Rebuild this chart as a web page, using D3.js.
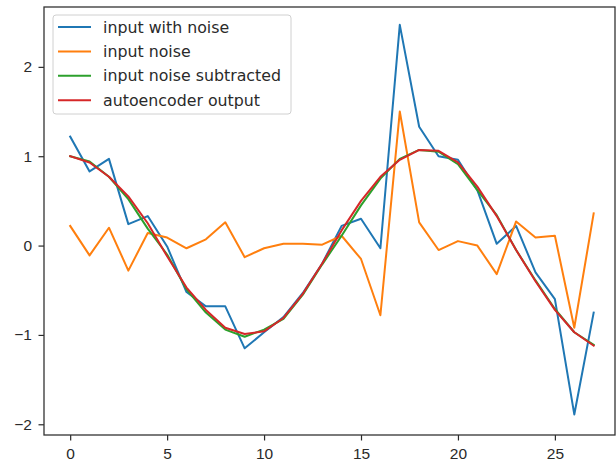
<!DOCTYPE html>
<html>
<head>
<meta charset="utf-8">
<script src="https://cdn.jsdelivr.net/npm/d3@7"></script>
<style>
  body { margin: 0; background: #fff; }
  svg { display: block; font-family: "DejaVu Sans", sans-serif; }
  .tick text { font-size: 15.5px; fill: #2a2a2a; }
  .tick line { stroke: #2a2a2a; stroke-width: 1.2; }
</style>
</head>
<body>
<div id="chart"></div>
<script>
// Data
var xs = d3.range(0, 28);
var inputWithNoise = [1.22, 0.83, 0.97, 0.24, 0.33, -0.01, -0.52, -0.68, -0.68, -1.15, -0.97, -0.80, -0.53, -0.20, 0.22, 0.30, -0.03, 2.47, 1.33, 1.00, 0.96, 0.62, 0.02, 0.22, -0.30, -0.60, -1.89, -0.75];
var inputNoise = [0.22, -0.11, 0.20, -0.28, 0.14, 0.09, -0.03, 0.07, 0.26, -0.13, -0.03, 0.02, 0.02, 0.01, 0.11, -0.15, -0.78, 1.50, 0.26, -0.05, 0.05, 0.00, -0.32, 0.27, 0.09, 0.11, -0.92, 0.36];
var noiseSubtracted = [1.00, 0.94, 0.77, 0.52, 0.19, -0.10, -0.49, -0.75, -0.94, -1.02, -0.94, -0.82, -0.55, -0.21, 0.11, 0.45, 0.75, 0.97, 1.07, 1.05, 0.91, 0.62, 0.34, -0.05, -0.39, -0.71, -0.97, -1.11];
var autoencoderOut = [1.00, 0.93, 0.77, 0.55, 0.25, -0.12, -0.47, -0.72, -0.92, -0.99, -0.96, -0.81, -0.54, -0.20, 0.17, 0.50, 0.77, 0.96, 1.07, 1.06, 0.93, 0.66, 0.33, -0.05, -0.40, -0.72, -0.97, -1.12];
var seriesNames = ["input with noise", "input noise", "input noise subtracted", "autoencoder output"];
var seriesColors = ["#1f77b4", "#ff7f0e", "#2ca02c", "#d62728"];
var xTicks = [0, 5, 10, 15, 20, 25];
var yTicks = [-2, -1, 0, 1, 2];

var width = 616, height = 464;
var plot = {left: 44, right: 615, top: 7, bottom: 435};

var svg = d3.select("#chart").append("svg")
    .attr("width", width)
    .attr("height", height);

var x = d3.scaleLinear().domain([-1.35, 28.1]).range([plot.left, plot.right]);
var y = d3.scaleLinear().domain([-2.12, 2.67]).range([plot.bottom, plot.top]);

// Axes
var xAxis = svg.append("g")
    .attr("transform", "translate(0," + plot.bottom + ")")
    .call(d3.axisBottom(x).tickValues(xTicks).tickSize(5.5).tickPadding(7).tickFormat(d3.format("d")));
xAxis.select(".domain").remove();

var yAxis = svg.append("g")
    .attr("transform", "translate(" + plot.left + ",0)")
    .call(d3.axisLeft(y).tickValues(yTicks).tickSize(5.5).tickPadding(6.5).tickFormat(d3.format("d")));
yAxis.select(".domain").remove();

// Lines
var allSeries = [inputWithNoise, inputNoise, noiseSubtracted, autoencoderOut];
var line = d3.line()
    .x(function (d, i) { return x(xs[i]); })
    .y(function (d) { return y(d); });

svg.append("g").selectAll("path")
    .data(allSeries)
    .enter().append("path")
    .attr("d", line)
    .attr("fill", "none")
    .attr("stroke", function (d, i) { return seriesColors[i]; })
    .attr("stroke-width", 2)
    .attr("stroke-linejoin", "round")
    .attr("stroke-linecap", "square");

// Frame
svg.append("rect")
    .attr("x", plot.left)
    .attr("y", plot.top)
    .attr("width", plot.right - plot.left)
    .attr("height", plot.bottom - plot.top)
    .attr("fill", "none")
    .attr("stroke", "#333")
    .attr("stroke-width", 1.3);

// Legend
var legend = svg.append("g").attr("transform", "translate(53,15)");
legend.append("rect")
    .attr("width", 238)
    .attr("height", 99)
    .attr("rx", 3)
    .attr("fill", "#fff")
    .attr("fill-opacity", 0.8)
    .attr("stroke", "#d0d0d0");

var item = legend.selectAll(".item")
    .data(seriesNames)
    .enter().append("g")
    .attr("class", "item")
    .attr("transform", function (d, i) { return "translate(0," + (12 + i * 24.4) + ")"; });

item.append("line")
    .attr("x1", 5).attr("x2", 38)
    .attr("stroke", function (d, i) { return seriesColors[i]; })
    .attr("stroke-width", 2);

item.append("text")
    .attr("x", 50)
    .attr("dy", "0.35em")
    .style("font-size", "15.8px")
    .style("fill", "#2a2a2a")
    .text(function (d) { return d; });
</script>
</body>
</html>
